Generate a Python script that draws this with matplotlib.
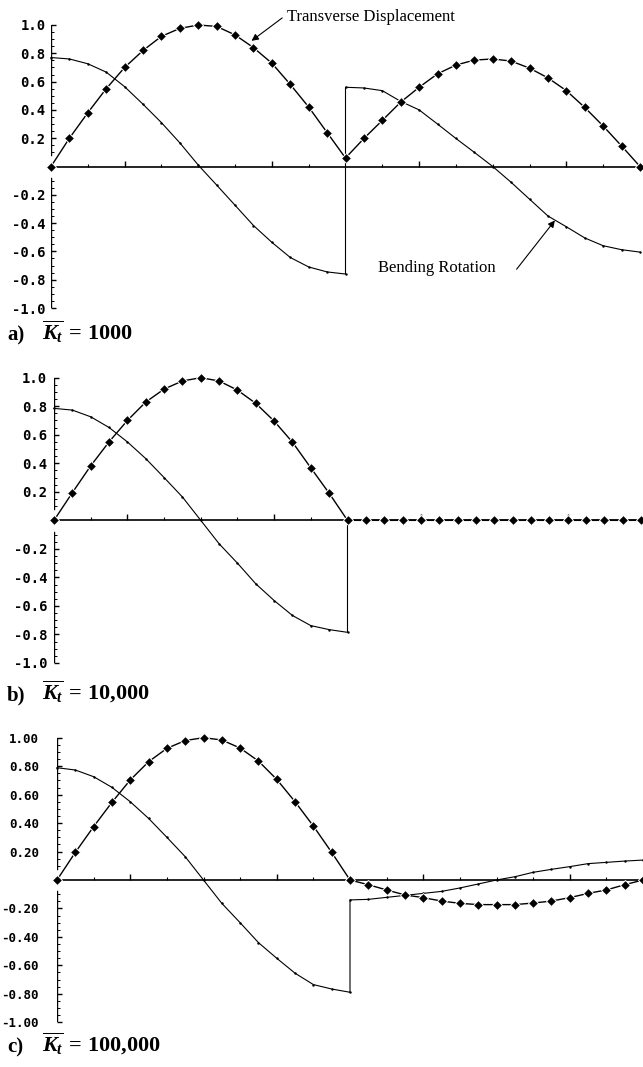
import numpy as np
import matplotlib
matplotlib.use("Agg")
import matplotlib.pyplot as plt
from matplotlib.ticker import FixedLocator, FuncFormatter

plt.rcParams["mathtext.fontset"] = "custom"
plt.rcParams["mathtext.rm"] = "Liberation Serif:bold"
plt.rcParams["mathtext.it"] = "Liberation Serif:italic:bold"
plt.rcParams["mathtext.bf"] = "Liberation Serif:bold"

# stations along the two spans (x = 0..2, support at x = 1)
x_all = np.arange(33) / 16.0
x_span1 = x_all[:17]
x_span2 = x_all[16:]

# a) Kt = 1000
disp_a = [0.0, 0.20, 0.38, 0.55, 0.70, 0.82, 0.92, 0.976, 1.0, 0.99, 0.93, 0.84, 0.73,
          0.58, 0.42, 0.24, 0.06,
          0.198, 0.326, 0.455, 0.56, 0.655, 0.717, 0.752, 0.76, 0.745, 0.695, 0.626,
          0.536, 0.417, 0.286, 0.145, 0.0]
rot_a1 = [0.77, 0.76, 0.726, 0.667, 0.564, 0.44, 0.31, 0.167, 0.01, -0.131, -0.274,
          -0.417, -0.536, -0.643, -0.71, -0.745, -0.76]
rot_a2 = [0.56, 0.555, 0.536, 0.46, 0.40, 0.30, 0.198, 0.10, 0.0, -0.112, -0.231,
          -0.35, -0.426, -0.505, -0.56, -0.588, -0.605]

# b) Kt = 10,000
disp_b = [0.0, 0.194, 0.382, 0.550, 0.70, 0.829, 0.920, 0.977, 1.0, 0.977, 0.913,
          0.82, 0.696, 0.548, 0.368, 0.19, 0.0,
          0.0, 0.0, 0.0, 0.0, 0.0, 0.0, 0.0, 0.0, 0.0, 0.0, 0.0, 0.0, 0.0, 0.0, 0.0, 0.0]
rot_b1 = [0.785, 0.773, 0.726, 0.651, 0.55, 0.433, 0.30, 0.164, 0.0, -0.164, -0.30,
          -0.445, -0.562, -0.667, -0.738, -0.766, -0.785]
rot_b2 = [0.0, 0.0, 0.0, 0.0, 0.0, 0.0, 0.0, 0.0, 0.0, 0.0, 0.0, 0.0, 0.0, 0.0, 0.0,
          0.0, 0.0]

# c) Kt = 100,000
disp_c = [0.0, 0.194, 0.375, 0.546, 0.703, 0.831, 0.925, 0.98, 1.0, 0.984, 0.927,
          0.836, 0.707, 0.55, 0.379, 0.194, 0.0,
          -0.033, -0.070, -0.105, -0.124, -0.148, -0.164, -0.173, -0.173, -0.173,
          -0.162, -0.148, -0.124, -0.094, -0.070, -0.033, 0.0]
rot_c1 = [0.789, 0.773, 0.726, 0.651, 0.55, 0.433, 0.30, 0.164, 0.0, -0.164, -0.30,
          -0.44, -0.55, -0.655, -0.735, -0.766, -0.789]
rot_c2 = [-0.14, -0.136, -0.122, -0.108, -0.094, -0.08, -0.056, -0.028, 0.0, 0.023,
          0.054, 0.075, 0.094, 0.115, 0.124, 0.133, 0.14]

ytick_vals = [-1.0, -0.8, -0.6, -0.4, -0.2, 0.2, 0.4, 0.6, 0.8, 1.0]
xtick_major = [0.25, 0.75, 1.25, 1.75]
xtick_minor = [0.125, 0.375, 0.5, 0.625, 0.875, 1.125, 1.375, 1.5, 1.625, 1.875]
kt_values = ["1000", "10,000", "100,000"]

panels = [
    # (rect, disp, rot1, rot2, label format, label size, label pad, caption baseline)
    ([51 / 643, 1 - 308 / 1067, 589 / 643, 283 / 1067], disp_a, rot_a1, rot_a2,
     "%.1f", 10, 4, 1 - 340 / 1067),
    ([54 / 643, 1 - 663 / 1067, 587 / 643, 285.3 / 1067], disp_b, rot_b1, rot_b2,
     "%.1f", 10, 5, 1 - 700 / 1067),
    ([57 / 643, 1 - 1022.3 / 1067, 586 / 643, 284.6 / 1067], disp_c, rot_c1, rot_c2,
     "%.2f", 9, 13, 1 - 1052 / 1067),
]

fig = plt.figure(figsize=(6.43, 10.67), dpi=100)

axes = []
for i, (rect, disp, rot1, rot2, fmt, lsize, lpad, cy) in enumerate(panels):
    ax = fig.add_axes(rect)
    axes.append(ax)

    # bending rotation: one line, jump at the interior support
    ax.plot(np.concatenate([x_span1, x_span2]), rot1 + rot2, color="k", lw=0.8,
            marker=".", ms=1.5, clip_on=False, zorder=3)
    # transverse displacement
    ax.plot(x_all, disp, color="k", lw=1.0, marker="D", ms=5.5, mfc="k",
            mec="white", mew=0.7, clip_on=False, zorder=4)

    ax.set_xlim(0, 2)
    ax.set_ylim(-1.0, 1.0)

    for s in ("top", "right", "left"):
        ax.spines[s].set_visible(False)
    ax.spines["bottom"].set_position(("data", 0))
    ax.spines["bottom"].set_linewidth(1.2)
    # y axis drawn in two pieces, open around the origin
    ax.axvline(0, ymin=0, ymax=0.46, color="k", lw=1.0, zorder=2)
    ax.axvline(0, ymin=0.54, ymax=1.0, color="k", lw=1.0, zorder=2)

    ax.xaxis.set_major_locator(FixedLocator(xtick_major))
    ax.xaxis.set_minor_locator(FixedLocator(xtick_minor))
    ax.tick_params(axis="x", which="both", direction="in", labelbottom=False)
    ax.tick_params(axis="x", which="major", length=4, width=1.0)
    ax.tick_params(axis="x", which="minor", length=2.5, width=0.8)

    ax.yaxis.set_major_locator(FixedLocator(ytick_vals))
    ax.yaxis.set_minor_locator(FixedLocator(
        [v / 20 for v in range(-20, 21) if v % 4 != 0 and abs(v) > 1]))
    ax.yaxis.set_major_formatter(FuncFormatter(lambda v, p, f=fmt: f % v))
    ax.tick_params(axis="y", which="both", direction="in")
    ax.tick_params(axis="y", which="major", length=3.5, width=1.0, pad=lpad,
                   labelsize=lsize)
    ax.tick_params(axis="y", which="minor", length=1.8, width=0.7)
    for lab in ax.get_yticklabels():
        lab.set_fontfamily("DejaVu Sans Mono")
        lab.set_fontweight("bold")

    # caption under each panel
    fig.text(7 / 643, cy, "abc"[i] + ")", fontfamily="Liberation Serif",
             fontweight="bold", fontsize=15, va="baseline", ha="left")
    fig.text(42 / 643, cy,
             r"$\overline{K_t}\,=\," + kt_values[i].replace(",", "{,}") + "$",
             fontsize=16, va="baseline", ha="left")

# curve labels in the first panel
ax = axes[0]
ax.text(0.80, 1.057, "Transverse Displacement", fontfamily="Liberation Serif",
        fontsize=12, ha="left", va="center", clip_on=False)
ax.annotate("", xy=(0.681, 0.888), xytext=(0.785, 1.05),
            arrowprops=dict(arrowstyle="-|>", color="k", lw=0.8, mutation_scale=10,
                            shrinkA=0, shrinkB=0))
ax.text(1.11, -0.714, "Bending Rotation", fontfamily="Liberation Serif",
        fontsize=12, ha="left", va="center")
ax.annotate("", xy=(1.711, -0.381), xytext=(1.581, -0.726),
            arrowprops=dict(arrowstyle="-|>", color="k", lw=0.8, mutation_scale=10,
                            shrinkA=0, shrinkB=0))

fig.savefig("out.png", dpi=100)
